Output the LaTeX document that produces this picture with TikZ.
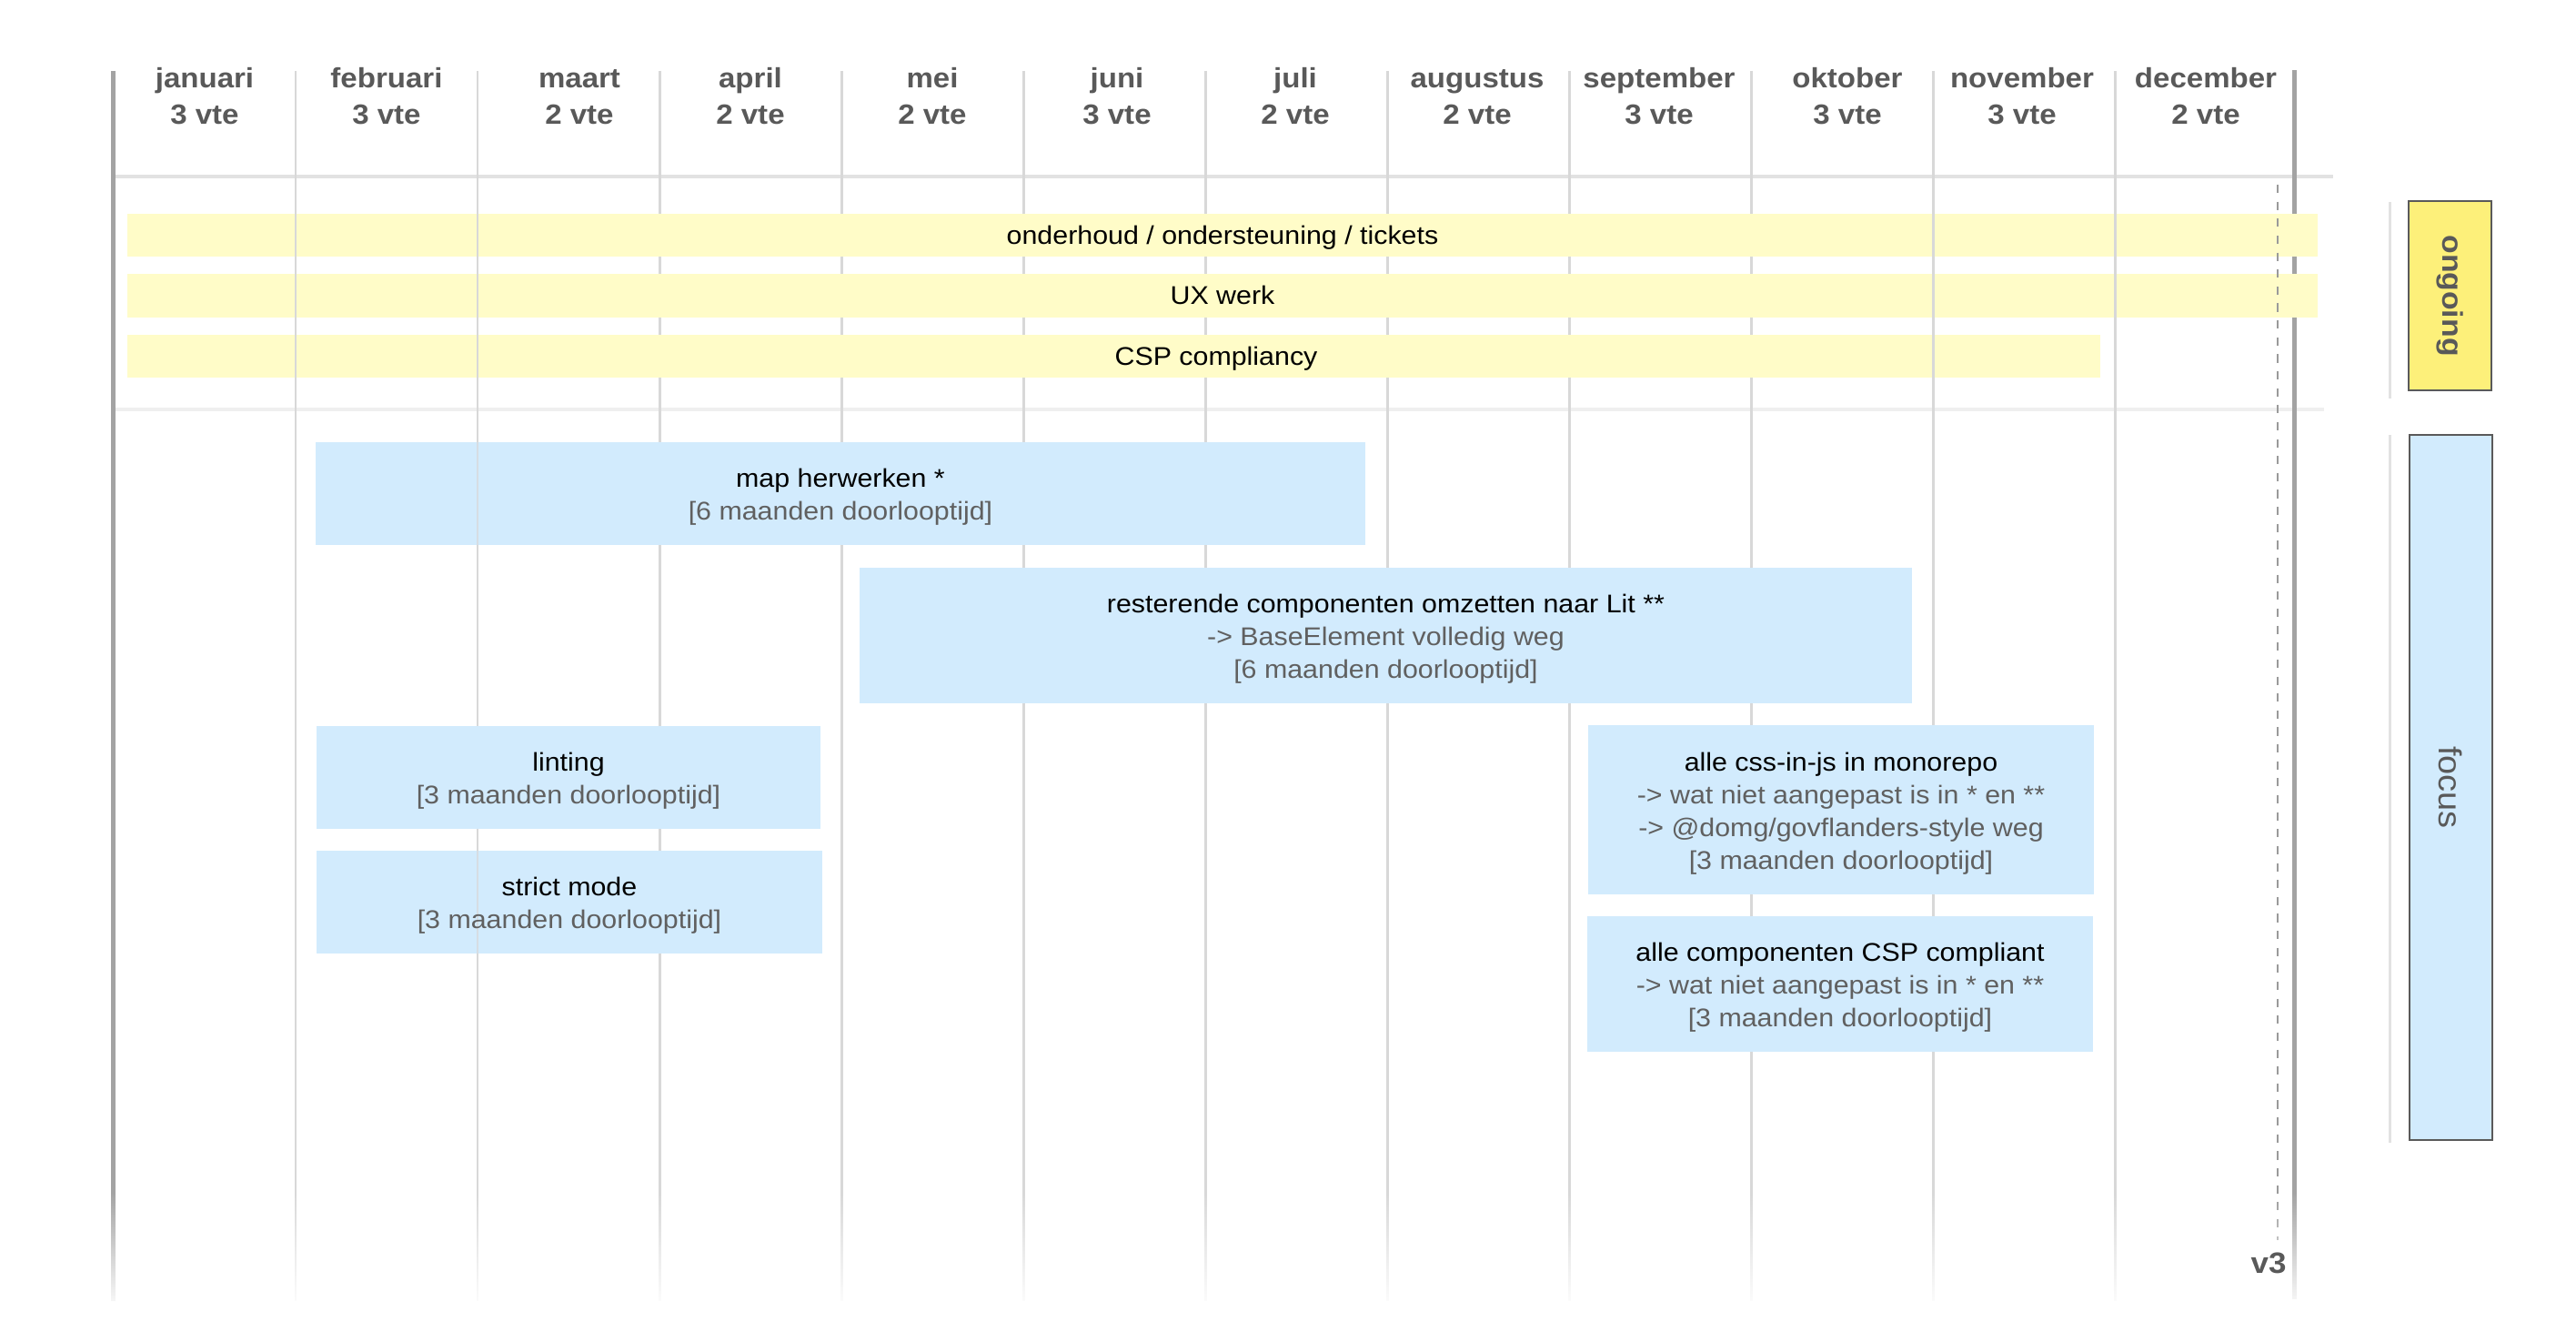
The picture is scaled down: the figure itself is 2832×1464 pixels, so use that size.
\documentclass[tikz,border=0pt]{standalone}
\usepackage{fontspec}
\setmainfont{Liberation Sans}[FakeStretch=1.08]
\usetikzlibrary{fit,fadings}
\definecolor{yel}{HTML}{FFFCC8}
\definecolor{blu}{HTML}{D2EBFD}
\definecolor{ongo}{HTML}{FDF07A}
\definecolor{gridc}{HTML}{D8D8D8}
\definecolor{axisc}{HTML}{A3A3A3}
\definecolor{hdrc}{HTML}{595959}
\definecolor{subc}{HTML}{606060}
\definecolor{framec}{HTML}{5A5A5A}
\definecolor{sepc}{HTML}{E2E2E2}
\definecolor{sepd}{HTML}{EFEFEF}
\definecolor{dashc}{HTML}{9A9A9A}
\begin{document}
\begin{tikzpicture}[x=0.01cm, y=-0.01cm,
  gridline/.style={draw=gridc, line width=0.85pt},
  axisline/.style={draw=axisc, line width=1.4pt},
  sepline/.style={draw=sepc, line width=1.3pt},
  sepline2/.style={draw=sepd, line width=1pt},
  dashline/.style={draw=dashc, line width=0.6pt, dash pattern=on 2.6pt off 2.7pt},
  hdrtext/.style={anchor=base, text=hdrc, font=\fontsize{8.7}{10}\selectfont\bfseries, inner sep=0pt},
  bar/.style={fill=yel, draw=none, inner sep=0pt},
  bartext/.style={anchor=base, font=\fontsize{8}{10.24}\selectfont, inner sep=0pt},
  task/.style={fill=blu, draw=none, inner sep=0pt},
  tasktext/.style={align=center, font=\fontsize{8}{10.24}\selectfont, inner sep=0pt},
  side/.style={draw=framec, line width=0.75pt, inner sep=0pt},
  sideline/.style={draw=sepc, line width=0.85pt}
]
\useasboundingbox (0,0) rectangle (2832,1464);

% separators
\draw[sepline] (125,194) -- (2565,194);
\draw[sepline2] (125,450) -- (2555,450);

% month grid
\foreach \i in {1,...,11} {\draw[gridline] (125+200*\i,78) -- (125+200*\i,1430);}
\draw[axisline] (124.5,78) -- (124.5,1430);
\draw[axisline] (2522.5,77) -- (2522.5,1428);

% header
\foreach \mname/\nvte/\xc [count=\k from 0] in {januari/3/225,februari/3/425,maart/2/637,april/2/825,mei/2/1025,juni/3/1228,juli/2/1424,augustus/2/1624,september/3/1824,oktober/3/2031,november/3/2223,december/2/2425} {
  \node[hdrtext] (mon\k) at (\xc,97) {\mname};
  \node[hdrtext] (vte\k) at (\xc,137) {\nvte\ vte};
}

% ongoing bars
\node[bar, fit={(140,235)(2548,282)}] (bar1) {};
\node[bar, fit={(140,301)(2548,349)}] (bar2) {};
\node[bar, fit={(140,368)(2309,415)}] (bar3) {};
\foreach \xx in {325,525,2125,2325} {\draw[gridline] (\xx,200) -- (\xx,440);}
\node[bartext] (bar1t) at (1344,269) {onderhoud / ondersteuning / tickets};
\node[bartext] (bar2t) at (1344,335) {UX werk};
\node[bartext] (bar3t) at (1337,402) {CSP compliancy};

% dashed release line
\draw[dashline] (2504,203) -- (2504,1363);

% focus tasks
\node[task, fit={(347,486)(1501,599)}] (map) {};
\node[task, fit={(945,624)(2102,773)}] (lit) {};
\node[task, fit={(348,798)(902,911)}] (lint) {};
\node[task, fit={(348,935)(904,1048)}] (strict) {};
\node[task, fit={(1746,797)(2302,983)}] (css) {};
\node[task, fit={(1745,1007)(2301,1156)}] (csp) {};
\draw[gridline, opacity=0.7] (525,486) -- (525,599);
\draw[gridline, opacity=0.7] (525,935) -- (525,1048);

% fade at the bottom
\fill[white, path fading=north] (95,1310) rectangle (2560,1442);

\node[tasktext] (mapt) at ([yshift=-1.14pt]map.center) {map herwerken *\\\textcolor{subc}{[6 maanden doorlooptijd]}};
\node[tasktext] (litt) at ([yshift=-1.14pt]lit.center) {resterende componenten omzetten naar Lit **\\\textcolor{subc}{-> BaseElement volledig weg}\\\textcolor{subc}{[6 maanden doorlooptijd]}};
\node[tasktext] (lintt) at ([yshift=-1.14pt]lint.center) {linting\\\textcolor{subc}{[3 maanden doorlooptijd]}};
\node[tasktext] (strictt) at ([yshift=-1.14pt]strict.center) {strict mode\\\textcolor{subc}{[3 maanden doorlooptijd]}};
\node[tasktext] (csst) at ([yshift=-1.14pt]css.center) {alle css-in-js in monorepo\\\textcolor{subc}{-> wat niet aangepast is in * en **}\\\textcolor{subc}{-> @domg/govflanders-style weg}\\\textcolor{subc}{[3 maanden doorlooptijd]}};
\node[tasktext] (cspt) at ([yshift=-1.14pt]csp.center) {alle componenten CSP compliant\\\textcolor{subc}{-> wat niet aangepast is in * en **}\\\textcolor{subc}{[3 maanden doorlooptijd]}};

% version label
\node[anchor=base, text=hdrc, font=\fontsize{9.2}{11}\selectfont\bfseries, inner sep=0pt] (v3) at (2494,1399) {v3};

% legend on the right
\draw[sideline] (2627,222) -- (2627,438);
\draw[sideline] (2627,478) -- (2627,1256);
\node[side, fill=ongo, fit={(2648,221)(2739,429)}] (ongoing) {};
\node[rotate=-90, text=hdrc, font=\fontsize{8.9}{10}\selectfont\bfseries, inner sep=0pt] (ongoingt) at (ongoing.center) {ongoing};
\node[side, fill=blu, fit={(2649,478)(2740,1253)}] (focus) {};
\node[rotate=-90, text=hdrc, font=\fontsize{10}{11}\selectfont, inner sep=0pt] (focust) at (focus.center) {focus};
\end{tikzpicture}
\end{document}
